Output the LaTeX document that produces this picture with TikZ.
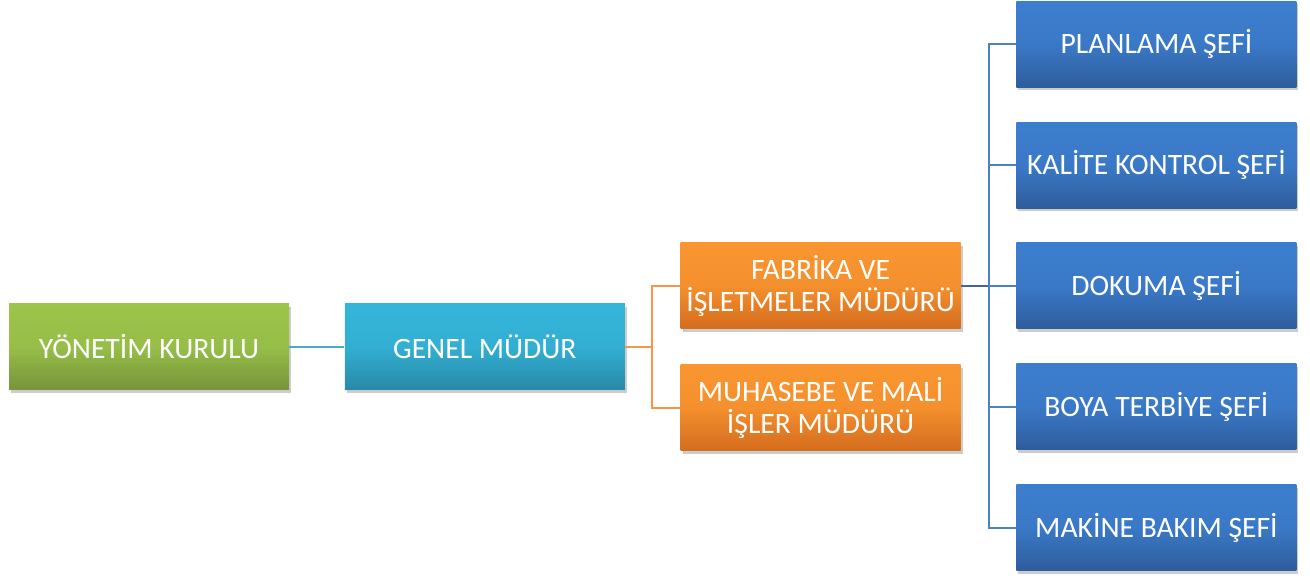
\documentclass[tikz,border=0pt]{standalone}
\usepackage{fontspec}
\setmainfont{Carlito}
\usepackage{tikz}
\usetikzlibrary{positioning, shadows}
\definecolor{yktop}{RGB}{156,197,74}
\definecolor{ykbot}{RGB}{118,148,58}
\definecolor{gmtop}{RGB}{52,182,218}
\definecolor{gmbot}{RGB}{40,136,166}
\definecolor{ortop}{RGB}{250,150,48}
\definecolor{orbot}{RGB}{212,108,30}
\definecolor{bltop}{RGB}{60,126,206}
\definecolor{blbot}{RGB}{46,92,156}
\definecolor{cyanline}{RGB}{75,172,198}
\definecolor{orline}{RGB}{247,150,70}
\definecolor{blline}{RGB}{79,129,189}

\begin{document}
\begin{tikzpicture}[
	orgbox/.style={minimum width=140pt, minimum height=43pt, text=white, align=center,
		font=\fontsize{14.8}{15.8}\selectfont, inner sep=2pt,
		drop shadow={shadow xshift=1pt, shadow yshift=-1.5pt, opacity=0.4}},
	greenbox/.style={orgbox, top color=yktop, bottom color=ykbot, middle color=yktop!85!ykbot},
	cyanbox/.style={orgbox, top color=gmtop, bottom color=gmbot, middle color=gmtop!85!gmbot},
	orangebox/.style={orgbox, top color=ortop, bottom color=orbot, middle color=ortop!85!orbot},
	bluebox/.style={orgbox, top color=bltop, bottom color=blbot, middle color=bltop!85!blbot},
	link/.style={line width=1pt}]
	\useasboundingbox (0,0) rectangle (655pt,-288pt);

	\node[greenbox] (yk) at (74.5pt,-173.5pt) {YÖNETİM KURULU};
	\node[cyanbox, right=27.5pt of yk] (gm) {GENEL MÜDÜR};
	\node[orangebox, right=27.5pt of gm, yshift=30.5pt] (fab) {FABRİKA VE\\İŞLETMELER MÜDÜRÜ};
	\node[orangebox, below=17.5pt of fab] (muh) {MUHASEBE VE MALİ\\İŞLER MÜDÜRÜ};

	\node[bluebox, right=27.5pt of fab] (dok) {DOKUMA ŞEFİ};
	\node[bluebox, above=17pt of dok] (kal) {KALİTE KONTROL ŞEFİ};
	\node[bluebox, above=17pt of kal] (plan) {PLANLAMA ŞEFİ};
	\node[bluebox, below=17pt of dok] (boya) {BOYA TERBİYE ŞEFİ};
	\node[bluebox, below=17pt of boya] (mak) {MAKİNE BAKIM ŞEFİ};

	% connectors
	\draw[link, cyanline] (yk.east) -- (gm.west);

	\coordinate[right=13.5pt of gm.east] (gmfork);
	\draw[link, orline] (gm.east) -- (gmfork) |- (fab.west);
	\draw[link, orline] (gmfork) |- (muh.west);

	\coordinate[right=14pt of fab.east] (fabfork);
	\draw[link, blline!80!black, line width=1.4pt] (fab.east) -- (fabfork);
	\foreach \n in {plan, kal, dok, boya, mak}
		\draw[link, blline] (fabfork) |- (\n.west);
\end{tikzpicture}
\end{document}
